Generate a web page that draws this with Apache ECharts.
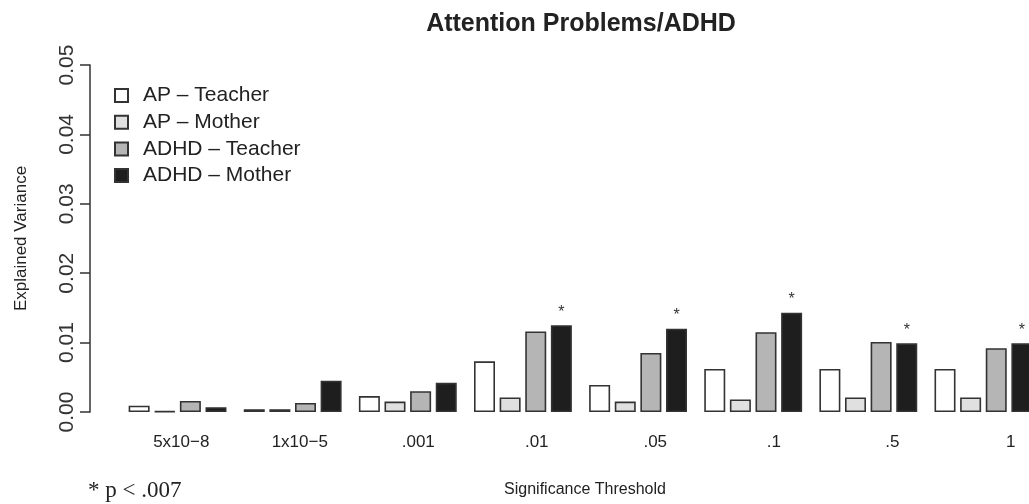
<!DOCTYPE html>
<html>
<head>
<meta charset="utf-8">
<script src="https://cdn.jsdelivr.net/npm/echarts@6/dist/echarts.min.js"></script>
<style>
html,body{margin:0;padding:0;background:#fff;}
#chart{width:1029px;height:504px;}
</style>
</head>
<body>
<div id="chart"></div>
<script>
var categories = ['5x10\u22128', '1x10\u22125', '.001', '.01', '.05', '.1', '.5', '1'];
var apTeacher   = [0.0009, 0.0004, 0.0023, 0.0073, 0.0039, 0.0062, 0.0062, 0.0062];
var apMother    = [0.0001, 0.0004, 0.0015, 0.0021, 0.0015, 0.0018, 0.0021, 0.0021];
var adhdTeacher = [0.0016, 0.0013, 0.0030, 0.0116, 0.0085, 0.0115, 0.0101, 0.0092];
var adhdMother  = [0.0007, 0.0045, 0.0042, 0.0125, 0.0120, 0.0143, 0.0099, 0.0099];
var significant = [false, false, false, true, true, true, true, true];
var yTicks = [0, 0.01, 0.02, 0.03, 0.04, 0.05];

var border = '#333333';
function bar(name, data, color, stars) {
  var s = {
    name: name,
    type: 'bar',
    data: data,
    xAxisIndex: 0,
    yAxisIndex: 0,
    barWidth: 21,
    barGap: '22%',
    itemStyle: { color: color, borderColor: border, borderWidth: 1.6 },
    emphasis: { disabled: true },
    animation: false
  };
  if (stars) {
    s.label = {
      show: true,
      position: 'top',
      distance: 5,
      fontSize: 16,
      color: '#333',
      fontFamily: 'Liberation Sans',
      formatter: function (p) { return stars[p.dataIndex] ? '*' : ''; }
    };
  }
  return s;
}

var chart = echarts.init(document.getElementById('chart'), null, { renderer: 'canvas' });
chart.setOption({
  backgroundColor: '#ffffff',
  animation: false,
  title: {
    text: 'Attention Problems/ADHD',
    left: 576,
    textAlign: 'center',
    top: 7,
    textStyle: { fontFamily: 'Liberation Sans', fontWeight: 'bold', fontSize: 25, color: '#222' }
  },
  legend: {
    orient: 'vertical',
    left: 109,
    top: 80,
    itemWidth: 13,
    itemHeight: 13,
    itemGap: 5.7,
    icon: 'rect',
    selectedMode: false,
    textStyle: { fontFamily: 'Liberation Sans', fontSize: 21, color: '#222', padding: [0, 0, 0, 10] },
    data: ['AP \u2013 Teacher', 'AP \u2013 Mother', 'ADHD \u2013 Teacher', 'ADHD \u2013 Mother']
  },
  grid: [
    { left: 120, width: 921, top: 65, bottom: 92, containLabel: false, outerBoundsMode: 'none' },
    { left: 122, width: 948, top: 65, bottom: 92, containLabel: false, outerBoundsMode: 'none' }
  ],
  xAxis: [{
    type: 'category',
    gridIndex: 0,
    data: categories,
    axisLine: { show: false },
    axisTick: { show: false },
    axisLabel: { show: false }
  }, {
    type: 'category',
    gridIndex: 1,
    data: categories,
    axisLine: { show: false },
    axisTick: { show: false },
    axisLabel: { margin: 22, fontFamily: 'Liberation Sans', fontSize: 17, color: '#222' }
  }],
  yAxis: [{
    type: 'value',
    gridIndex: 0,
    min: 0,
    max: 0.05,
    interval: 0.01,
    offset: 30,
    name: 'Explained Variance',
    nameLocation: 'middle',
    nameRotate: 90,
    nameGap: 60,
    nameTextStyle: { fontFamily: 'Liberation Sans', fontSize: 17, color: '#222' },
    splitLine: { show: false },
    axisLine: { show: true, lineStyle: { color: '#333', width: 1.5 } },
    axisTick: { show: true, length: 10, lineStyle: { color: '#333', width: 1.5 } },
    axisLabel: {
      rotate: 90,
      margin: 12,
      fontFamily: 'Liberation Sans',
      fontSize: 21,
      color: '#333',
      formatter: function (v) {
        for (var i = 0; i < yTicks.length; i++) {
          if (Math.abs(v - yTicks[i]) < 1e-9) return yTicks[i].toFixed(2);
        }
        return '';
      }
    }
  }, {
    type: 'value',
    gridIndex: 1,
    min: 0,
    max: 0.05,
    interval: 0.01,
    show: false
  }],
  graphic: [{
    type: 'text',
    left: 88,
    top: 479,
    style: { text: '* p < .007', fontFamily: 'Liberation Serif', fontSize: 23, fill: '#222' }
  }, {
    type: 'text',
    x: 585,
    y: 490,
    style: { text: 'Significance Threshold', fontFamily: 'Liberation Sans', fontSize: 16, fill: '#222', align: 'center', verticalAlign: 'middle' }
  }],
  series: [
    bar('AP \u2013 Teacher', apTeacher, '#ffffff'),
    bar('AP \u2013 Mother', apMother, '#e0e0e0'),
    bar('ADHD \u2013 Teacher', adhdTeacher, '#b5b5b5'),
    bar('ADHD \u2013 Mother', adhdMother, '#1e1e1e', significant)
  ]
});
</script>
</body>
</html>
